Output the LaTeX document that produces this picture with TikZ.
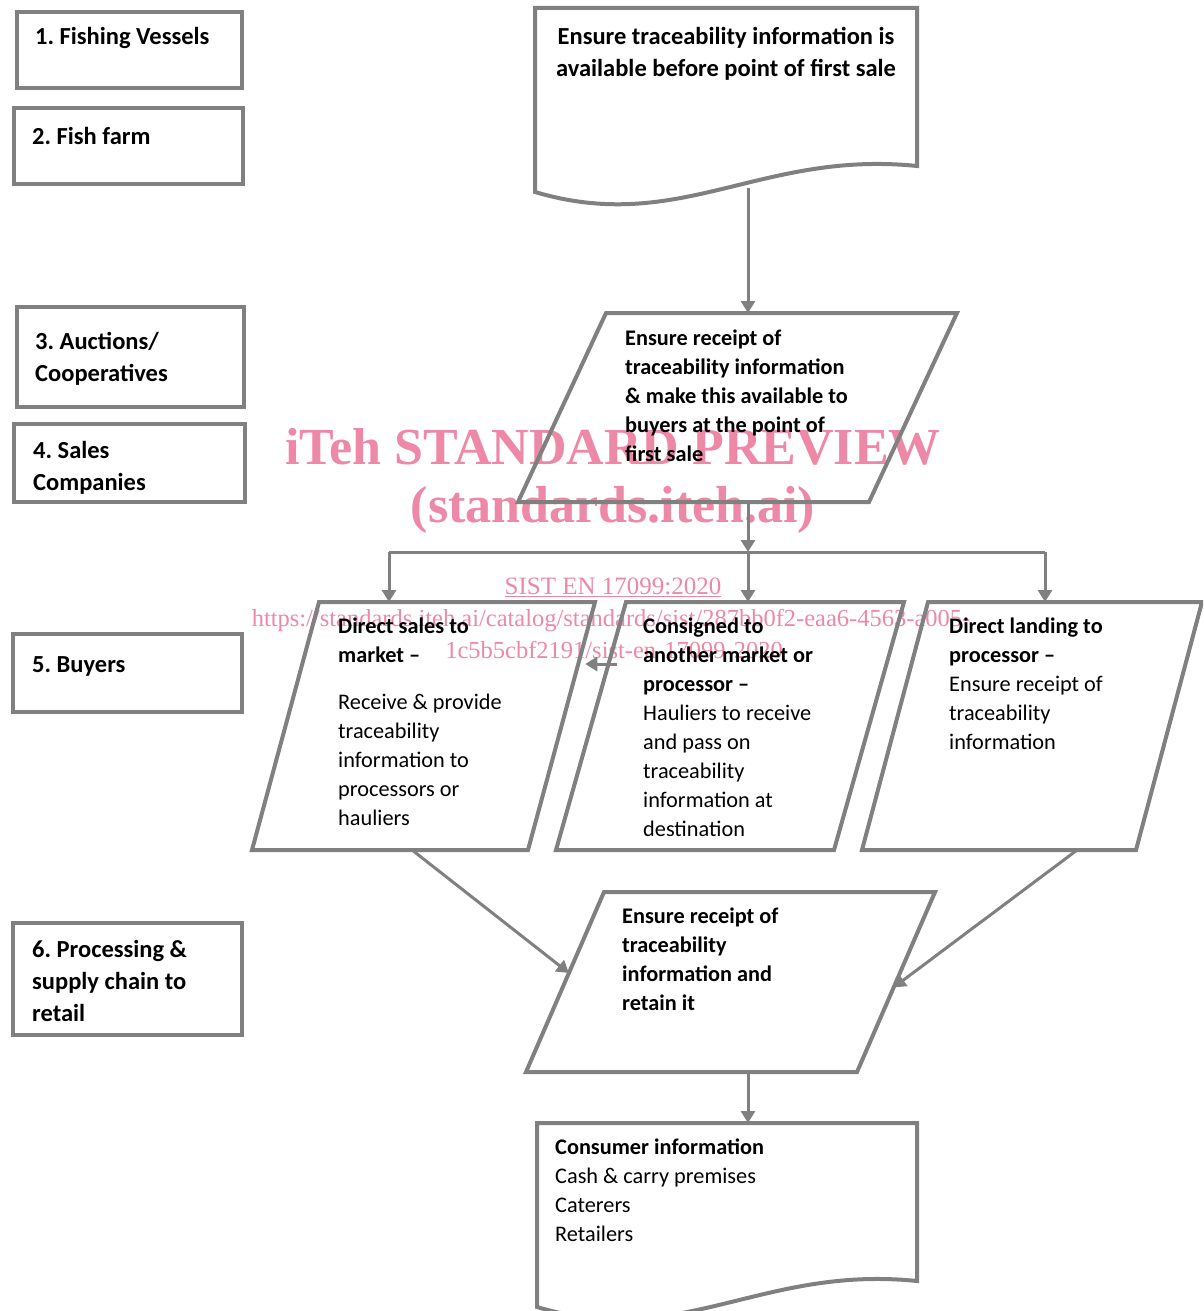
\documentclass[tikz,border=0pt]{standalone}
\usepackage{fontspec}
\setmainfont{Carlito}
\newfontfamily\wmfont{Liberation Serif}
\usetikzlibrary{arrows.meta,calc}
\frenchspacing
\definecolor{LineGrey}{HTML}{808080}
\definecolor{Watermark}{RGB}{237,136,166}
\newcommand{\flowsize}{\fontsize{22.3}{29}\selectfont}
\newcommand{\headsize}{\fontsize{24.5}{32}\selectfont}
% parallelogram inside a bare node: #1 node name, #2 slant offset
\newcommand{\slantframe}[2]{%
  \coordinate (#1 tl) at ([xshift=#2]#1.north west);
  \coordinate (#1 br) at ([xshift=-#2]#1.south east);
  \draw[frame] (#1.south west) -- (#1 br) -- (#1.north east) -- (#1 tl) -- cycle;}
\tikzset{
  frame/.style = {draw=LineGrey, line width=4pt, inner sep=0pt, outer sep=0pt},
  tier/.style  = {frame, rectangle},
  sheet/.style = {rectangle, inner sep=0pt, outer sep=0pt},
  txt/.style   = {inner sep=0pt, anchor=base west, align=left, font=\flowsize},
  head/.style  = {txt, font=\headsize\bfseries},
  flow/.style  = {-{Triangle[length=12pt,width=14pt]}, draw=LineGrey, line width=3pt},
  link/.style  = {draw=LineGrey, line width=3pt},
  wm/.style    = {inner sep=0pt, anchor=base, text=Watermark},
}

\begin{document}
\begin{tikzpicture}[x=1pt, y=-1pt]
  \clip (0,0) rectangle (1203,1311);

  \node[wm, font=\wmfont\fontsize{52}{60}\selectfont\bfseries] (wmA) at (613,464) {iTeh STANDARD PREVIEW};
  \node[wm, font=\wmfont\fontsize{52}{60}\selectfont\bfseries] (wmB) at (613,522) {(standards.iteh.ai)};
  \node[wm, font=\wmfont\fontsize{25}{32}\selectfont] (wmC) at (613,594) {\underline{SIST EN 17099:2020}};
  \node[wm, font=\wmfont\fontsize{24.5}{32}\selectfont] (wmD) at (611,626)
    {https://standards.iteh.ai/catalog/standards/sist/287bb0f2-eaa6-4563-a005-};
  \node[wm, font=\wmfont\fontsize{24.5}{32}\selectfont] (wmE) at (614,658) {1c5b5cbf2191/sist-en-17099-2020};

  \node[tier, minimum width=225, minimum height=76]  (vessels) at (129.5,50)  {};
  \node[tier, minimum width=229, minimum height=76]  (farm)    at (128.5,146) {};
  \node[tier, minimum width=227, minimum height=100] (auction) at (130.5,357) {};
  \node[tier, minimum width=231, minimum height=78]  (sales)   at (129.5,463) {};
  \node[tier, minimum width=229, minimum height=78]  (buyers)  at (127.5,673) {};
  \node[tier, minimum width=229, minimum height=112] (process) at (127.5,979) {};

  \node[head] (vesselsT) at (35,45)   {1. Fishing Vessels};
  \node[head] (farmT)    at (32,144)  {2. Fish farm};
  \node[head] (auctionT) at (35,381)  {3. Auctions/\\Cooperatives};
  \node[head] (salesT)   at (33,490)  {4. Sales\\Companies};
  \node[head] (buyersT)  at (32,672)  {5. Buyers};
  \node[head] (processT) at (32,1021) {6. Processing \&\\supply chain to\\retail};

  \node[sheet, minimum width=382, minimum height=180] (ensure) at (726,98) {};
  \draw[frame] (ensure.north west) -- (ensure.north east) -- ([yshift=22pt]ensure.south east)
    .. controls +(-157,-16) and +(145,43) .. ([yshift=-4pt]ensure.south west) -- cycle;
  \node[head, anchor=base, align=center] (ensureT) at (726,77)
    {Ensure traceability information is\\available before point of first sale};

  \node[sheet, minimum width=439, minimum height=189] (firstsale) at (737.5,407.5) {};
  \slantframe{firstsale}{88pt}
  \node[txt, font=\flowsize\bfseries] (firstsaleT) at (625,461)
    {Ensure receipt of\\traceability information\\\& make this available to\\buyers at the point of\\first sale};

  \node[sheet, minimum width=343, minimum height=248] (direct) at (423.5,726) {};
  \slantframe{direct}{67pt}
  \node[txt] (directT) at (338,825)
    {\textbf{Direct sales to}\\\textbf{market –}\\[18pt]Receive \& provide\\traceability\\information to\\processors or\\hauliers};

  \node[sheet, minimum width=348, minimum height=248] (consign) at (730,726) {};
  \slantframe{consign}{70pt}
  \node[txt] (consignT) at (643,836)
    {\textbf{Consigned to}\\\textbf{another market or}\\\textbf{processor –}\\Hauliers to receive\\and pass on\\traceability\\information at\\destination};

  \node[sheet, minimum width=340, minimum height=248] (landing) at (1032,726) {};
  \slantframe{landing}{66pt}
  \node[txt] (landingT) at (949,749)
    {\textbf{Direct landing to}\\\textbf{processor –}\\Ensure receipt of\\traceability\\information};

  \node[sheet, minimum width=409, minimum height=180] (retain) at (730.5,982) {};
  \slantframe{retain}{78pt}
  \node[txt, font=\flowsize\bfseries] (retainT) at (622,1010)
    {Ensure receipt of\\traceability\\information and\\retain it};

  \node[sheet, minimum width=380, minimum height=180] (consumer) at (727,1213) {};
  \draw[frame] (consumer.north west) -- (consumer.north east) -- ([yshift=22pt]consumer.south east)
    .. controls +(-157,-16) and +(145,43) .. ([yshift=-4pt]consumer.south west) -- cycle;
  \node[txt] (consumerT) at (555,1241)
    {\textbf{Consumer information}\\Cash \& carry premises\\Caterers\\Retailers};

  \coordinate (spine)  at (748,0);
  \coordinate (splitL) at (389,552);
  \coordinate (splitM) at (748,552);
  \coordinate (splitR) at (1045,552);

  \draw[flow] (ensure.south -| spine) -- (firstsale.north -| spine);
  \draw[flow] (firstsale.south -| spine) -- (splitM);
  \draw[link] (splitL) -- (splitR);
  \draw[flow] (splitL) -- (direct.north -| splitL);
  \draw[flow] (splitM) -- (consign.north -| splitM);
  \draw[flow] (splitR) -- (landing.north -| splitR);
  \draw[flow] ($(consign tl)!0.25!(consign.south west) + (8,0)$)
           -- ($(direct.north east)!0.25!(direct br) + (7,0)$);
  \draw[flow] ($(direct.south west)!0.58!(direct br)$) -- ($(retain tl)!0.45!(retain.south west)$);
  \draw[flow] ($(landing.south west)!0.785!(landing br)$) -- ($(retain.north east)!0.53!(retain br)$);
  \draw[flow] (retain.south -| spine) -- (consumer.north -| spine);

\end{tikzpicture}
\end{document}
